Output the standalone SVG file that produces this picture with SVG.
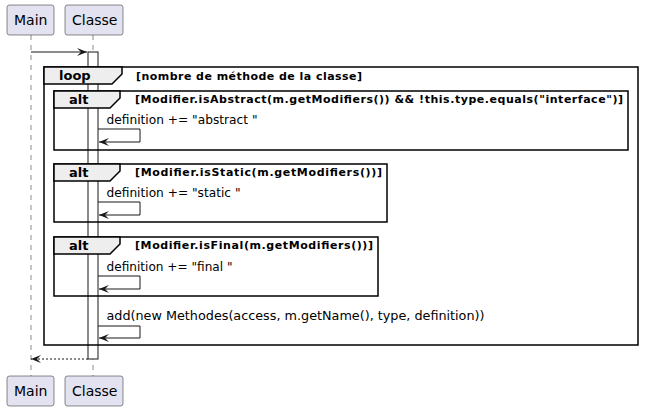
<svg xmlns="http://www.w3.org/2000/svg" width="656" height="412" viewBox="0 0 656 412">
<defs>
<style>
.part{fill:#E2E2F0;stroke:#181818;stroke-width:0.5}
.ptxt{font-family:"DejaVu Sans",sans-serif;font-size:14px;fill:#000}
.life{stroke:#181818;stroke-width:0.5;stroke-dasharray:5,5;fill:none}
.frame{fill:none;stroke:#000;stroke-width:1.5}
.tab{fill:#EEEEEE;stroke:#000;stroke-width:1.5}
.ftxt{font-family:"DejaVu Sans",sans-serif;font-size:13px;font-weight:bold;fill:#000}
.cond{font-family:"DejaVu Sans",sans-serif;font-size:11px;font-weight:bold;fill:#000}
.msg{font-family:"DejaVu Sans",sans-serif;font-size:13px;fill:#000}
.line{stroke:#181818;stroke-width:1;fill:none}
.act{fill:#FFFFFF;stroke:#181818;stroke-width:1}
</style>
<marker id="ah" viewBox="0 0 10 8" refX="10" refY="4" markerWidth="10" markerHeight="8" markerUnits="userSpaceOnUse" orient="auto">
<polygon points="0,0 10,4 0,8 4,4" fill="#181818"/>
</marker>
</defs>
<rect width="656" height="412" fill="#FFFFFF"/>
<g id="lifelines">
<line class="life" x1="31" y1="35" x2="31" y2="376"/>
<line class="life" x1="93" y1="35" x2="93" y2="376"/>
</g>
<g id="Main">
<rect class="part" x="7" y="5" width="47" height="30" rx="2.5"/>
<text class="ptxt" x="14" y="25">Main</text>
</g>
<g id="Classe">
<rect class="part" x="65" y="5" width="58" height="30" rx="2.5"/>
<text class="ptxt" x="72" y="25">Classe</text>
</g>
<g id="Main-bottom">
<rect class="part" x="7" y="376" width="47" height="30" rx="2.5"/>
<text class="ptxt" x="14" y="396">Main</text>
</g>
<g id="Classe-bottom">
<rect class="part" x="65" y="376" width="58" height="30" rx="2.5"/>
<text class="ptxt" x="72" y="396">Classe</text>
</g>
<g id="activation">
<rect class="act" x="88" y="52" width="10" height="307"/>
</g>
<g id="loop">
<rect class="frame" x="44" y="67" width="594" height="278"/>
<polygon class="tab" points="44,67 122,67 122,74 112,84 44,84"/>
<text class="ftxt" x="59" y="80">loop</text>
<text class="cond" x="136" y="80" textLength="226" lengthAdjust="spacing">[nombre de méthode de la classe]</text>
</g>
<g id="alt1">
<rect class="frame" x="54" y="91" width="574" height="59"/>
<polygon class="tab" points="54,91 120,91 120,98 110,108 54,108"/>
<text class="ftxt" x="69" y="104">alt</text>
<text class="cond" x="135" y="103" textLength="488" lengthAdjust="spacing">[Modifier.isAbstract(m.getModifiers()) &amp;&amp; !this.type.equals("interface")]</text>
</g>
<g id="alt2">
<rect class="frame" x="54" y="164" width="333" height="58"/>
<polygon class="tab" points="54,164 120,164 120,171 110,181 54,181"/>
<text class="ftxt" x="69" y="177">alt</text>
<text class="cond" x="135" y="176" textLength="247" lengthAdjust="spacing">[Modifier.isStatic(m.getModifiers())]</text>
</g>
<g id="alt3">
<rect class="frame" x="54" y="237" width="324" height="59"/>
<polygon class="tab" points="54,237 120,237 120,244 110,254 54,254"/>
<text class="ftxt" x="69" y="250">alt</text>
<text class="cond" x="135" y="249" textLength="238" lengthAdjust="spacing">[Modifier.isFinal(m.getModifiers())]</text>
</g>
<g id="connectors">
<line class="line" x1="31" y1="52" x2="87" y2="52" marker-end="url(#ah)"/>
<polyline class="line" points="98,129 140,129 140,142 99,142" marker-end="url(#ah)"/>
<polyline class="line" points="98,202 140,202 140,215 99,215" marker-end="url(#ah)"/>
<polyline class="line" points="98,276 140,276 140,289 99,289" marker-end="url(#ah)"/>
<polyline class="line" points="98,326 140,326 140,338 99,338" marker-end="url(#ah)"/>
<line class="line" x1="88" y1="359" x2="31" y2="359" stroke-dasharray="2,2" marker-end="url(#ah)"/>
</g>
<g id="labels">
<text class="msg" x="106.5" y="124" textLength="151" lengthAdjust="spacingAndGlyphs">definition += "abstract "</text>
<text class="msg" x="106.5" y="197" textLength="134" lengthAdjust="spacingAndGlyphs">definition += "static "</text>
<text class="msg" x="106.5" y="271" textLength="126" lengthAdjust="spacingAndGlyphs">definition += "final "</text>
<text class="msg" x="106.5" y="320" textLength="378" lengthAdjust="spacingAndGlyphs">add(new Methodes(access, m.getName(), type, definition))</text>
</g>
</svg>
